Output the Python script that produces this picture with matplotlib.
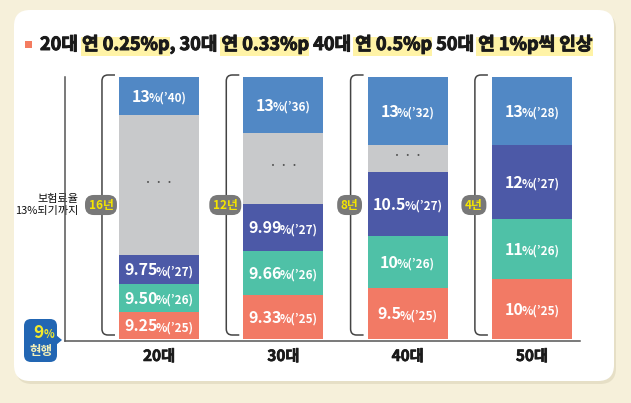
import matplotlib.pyplot as plt
import matplotlib.patheffects as pe
from matplotlib.patches import FancyBboxPatch, Polygon, PathPatch, Rectangle
from matplotlib.path import Path
from matplotlib.transforms import offset_copy

plt.rcParams['font.family'] = ['Noto Sans CJK KR', 'DejaVu Sans']

# 데이터
categories = ['20대', '30대', '40대', '50대']
# 막대 안 각 구간의 높이 (그림상 높이, 아래에서 위로)
h_25 = [27, 44, 51, 60]
h_26 = [28, 44, 52, 60]
h_27 = [29, 47, 64, 74]
h_gap = [140, 71, 27, 0]
h_13 = [38, 56, 68, 68]
rate_25 = ['9.25', '9.33', '9.5', '10']
rate_26 = ['9.50', '9.66', '10', '11']
rate_27 = ['9.75', '9.99', '10.5', '12']
rate_13 = ['13', '13', '13', '13']
year_13 = ['40', '36', '32', '28']
periods = ['16년', '12년', '8년', '4년']

title_parts = [('20대 ', False), ('연 0.25%p', True), (', 30대 ', False), ('연 0.33%p', True),
               (' 40대 ', False), ('연 0.5%p', True), (' 50대 ', False), ('연 1%p씩 인상', True)]

C_RED = '#f27a65'
C_GREEN = '#4fc1a7'
C_PURPLE = '#4c59a7'
C_GRAY = '#c8c9cb'
C_BLUE = '#5188c5'

W, H = 631, 403
fig = plt.figure(figsize=(W / 100, H / 100), dpi=100)
fig.patch.set_facecolor('#f6f0da')

# 배경 (픽셀 좌표)
bg = fig.add_axes([0, 0, 1, 1])
bg.set_xlim(0, W)
bg.set_ylim(H, 0)
bg.axis('off')
bg.add_patch(FancyBboxPatch((16, 13), 600, 371, boxstyle='round,pad=0,rounding_size=16',
                            fc='#e6dfc6', ec='none', zorder=0))
bg.add_patch(FancyBboxPatch((14, 10), 600, 371, boxstyle='round,pad=0,rounding_size=16',
                            fc='white', ec='none', zorder=1))

# 제목
bg.add_patch(Rectangle((25, 41), 7, 7, fc='#f47c60', ec='none', zorder=2))
full_title = ''.join(p for p, _ in title_parts)
renderer = fig.canvas.get_renderer()
tprops = dict(fontsize=12.5, fontweight='bold', color='#1a1a1a', va='center', ha='left')
tt = bg.text(40, 44.5, full_title, zorder=4, **tprops)
tw = tt.get_window_extent(renderer).width
tt.set_fontsize(12.5 * 553 / tw)
tprops['fontsize'] = 12.5 * 553 / tw
tt.set_path_effects([pe.withStroke(linewidth=0.7, foreground='#1a1a1a')])


def text_w(s):
    t = bg.text(0, 0, s, **tprops)
    w = t.get_window_extent(renderer).width
    t.remove()
    return w


prefix = ''
for part, hl in title_parts:
    if hl:
        x1 = 40 + text_w(prefix + part)
        x0 = x1 - text_w(part)
        bg.add_patch(Rectangle((x0 - 1, 37), x1 - x0 + 2, 19, fc='#fff3a6', ec='none', zorder=3))
    prefix += part

# 왼쪽 설명
bg.text(78, 205, '보험료율\n13%되기까지', ha='right', va='center', fontsize=8, fontweight='medium',
        color='#111111', linespacing=1.2, zorder=4)

# 9% 현행 박스
bg.add_patch(FancyBboxPatch((24, 319), 33, 43, boxstyle='round,pad=0,rounding_size=7',
                            fc='#2266b3', ec='none', zorder=4))
bg.add_patch(Polygon([[56, 335], [62, 340], [56, 345]], closed=True, fc='#2266b3', ec='none', zorder=4))
bg.text(38.5, 333, '9', ha='center', va='center', fontsize=12.5, fontweight='bold', color='#f2e92b', zorder=5)
bg.text(43.5, 334, '%', ha='left', va='center', fontsize=8, fontweight='bold', color='#f2e92b', zorder=5)
bg.text(40.5, 352, '현행', ha='center', va='center', fontsize=9, fontweight='bold', color='#f4f0b8', zorder=5)

# 막대 축
ax = fig.add_axes([65 / W, (H - 341) / H, 515 / W, 264 / H])
ax.patch.set_alpha(0)
ax.set_xlim(-0.756, 3.387)
ax.set_ylim(-2, 262)
px = (3.387 + 0.756) / 515  # x 한 픽셀

x = list(range(len(categories)))
bw = 80 * px
b1 = h_25
b2 = [a + b for a, b in zip(b1, h_26)]
b3 = [a + b for a, b in zip(b2, h_27)]
b4 = [a + b for a, b in zip(b3, h_gap)]
ax.bar(x, h_25, bw, color=C_RED)
ax.bar(x, h_26, bw, bottom=b1, color=C_GREEN)
ax.bar(x, h_27, bw, bottom=b2, color=C_PURPLE)
ax.bar(x, h_gap, bw, bottom=b3, color=C_GRAY)
ax.bar(x, h_13, bw, bottom=b4, color=C_BLUE)

for s in ['top', 'right']:
    ax.spines[s].set_visible(False)
for s in ['left', 'bottom']:
    ax.spines[s].set_color('#555555')
    ax.spines[s].set_linewidth(1.1)
ax.set_yticks([])
ax.set_xticks(x, categories)
ax.tick_params(axis='x', length=0, pad=5)
for lab in ax.get_xticklabels():
    lab.set_fontsize(11)
    lab.set_fontweight('bold')
    lab.set_color('#1a1a1a')
    lab.set_path_effects([pe.withStroke(linewidth=0.5, foreground='#1a1a1a')])


def seg_label(xc, yc, big, small, fb=11.5, fs=8.5):
    t1 = ax.text(xc, yc, big, fontsize=fb, fontweight='bold', color='white', ha='left', va='baseline')
    t2 = ax.text(xc, yc, small, fontsize=fs, fontweight='bold', color='white', ha='left', va='baseline')
    w1 = t1.get_window_extent(renderer).width - 2
    w2 = t2.get_window_extent(renderer).width
    w = w1 + w2
    dy = -0.36 * fb * 100 / 72
    t1.set_transform(offset_copy(ax.transData, fig=fig, x=-w / 2, y=dy, units='dots'))
    t2.set_transform(offset_copy(ax.transData, fig=fig, x=-w / 2 + w1, y=dy, units='dots'))


for i in x:
    seg_label(i, h_25[i] / 2, rate_25[i], '%(’25)')
    seg_label(i, b1[i] + h_26[i] / 2, rate_26[i], '%(’26)')
    seg_label(i, b2[i] + h_27[i] / 2, rate_27[i], '%(’27)')
    seg_label(i, b4[i] + h_13[i] / 2, rate_13[i], '%(’' + year_13[i] + ')')
    if h_gap[i] > 0:
        ax.text(i, b3[i] + h_gap[i] / 2 + 2, '•   •   •', ha='center', va='center',
                fontsize=5, color='#555555', family='DejaVu Sans')

    # 괄호
    xl = i - 57 * px
    xr = i - 44 * px
    top, bot = 264, 4
    rx, ry = 6 * px, 6
    verts = [(xr, top), (xl + rx, top), (xl, top), (xl, top - ry), (xl, bot + ry),
             (xl, bot), (xl + rx, bot), (xr, bot)]
    codes = [Path.MOVETO, Path.LINETO, Path.CURVE3, Path.CURVE3, Path.LINETO,
             Path.CURVE3, Path.CURVE3, Path.LINETO]
    ax.add_patch(PathPatch(Path(verts, codes), fc='none', ec='#444444', lw=1.1, clip_on=False))
    ax.text(i - 58 * px, 134, periods[i], ha='center', va='center', fontsize=8.5, fontweight='bold',
            color='#f5e600', zorder=5,
            bbox=dict(boxstyle='round,pad=0.3,rounding_size=0.75', fc='#787878', ec='none'))

fig.savefig('out.png', dpi=100, facecolor=fig.get_facecolor())
